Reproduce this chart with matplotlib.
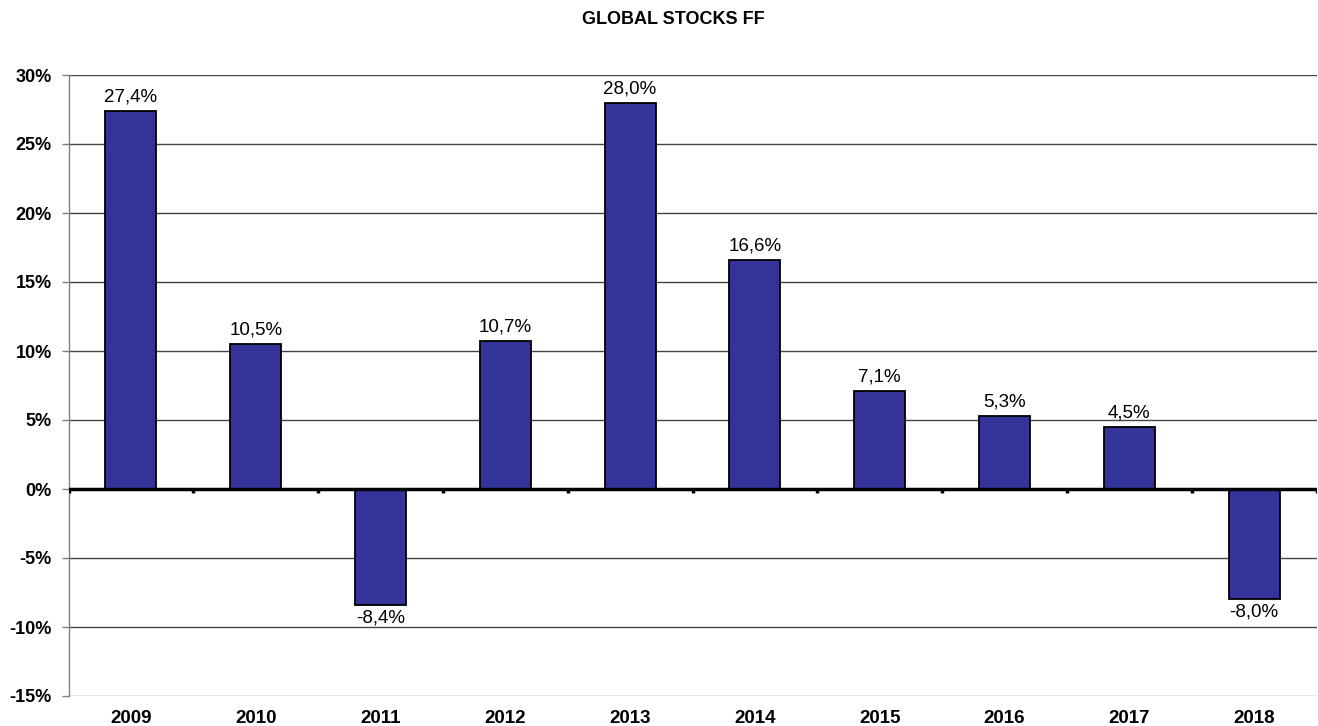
import matplotlib
matplotlib.use("Agg")
import matplotlib.pyplot as plt
import numpy as np

years = ["2009", "2010", "2011", "2012", "2013", "2014", "2015", "2016", "2017", "2018"]
returns = [27.4, 10.5, -8.4, 10.7, 28.0, 16.6, 7.1, 5.3, 4.5, -8.0]
yticks = [30, 25, 20, 15, 10, 5, 0, -5, -10, -15]
title = "GLOBAL STOCKS FF"

plt.rcParams['font.family'] = ['Liberation Sans', 'DejaVu Sans']

fig = plt.figure(figsize=(13.18, 7.26), dpi=100)
ax = fig.add_axes([68.5 / 1318, 30 / 726, 1248 / 1318, 621 / 726])

x = np.arange(len(years))
ax.bar(x, returns, width=0.41, color="#333399", edgecolor="black", linewidth=1.3, zorder=3)

ax.set_xlim(-0.5, len(years) - 0.5)
ax.set_ylim(-15, 30)
ax.set_yticks(yticks)
ax.set_yticklabels([f"{t}%" for t in yticks], fontsize=13, fontweight="bold")
ax.tick_params(axis="y", length=5, color="#808080", width=1, pad=7)

for t in yticks:
    if t != 0:
        ax.axhline(t, color="#444444" if t != -15 else "#888888", linewidth=1, zorder=1)

ax.set_xticks(x)
ax.set_xticklabels(years, fontsize=13.5, fontweight="bold")
ax.tick_params(axis="x", length=0, pad=10)

for s in ["top", "right", "bottom"]:
    ax.spines[s].set_visible(False)
ax.spines["left"].set_color("#808080")
ax.spines["left"].set_linewidth(1)

# zero axis line with category boundary ticks
ax.axhline(0, color="black", linewidth=2.5, zorder=4)
bounds = np.arange(len(years) + 1) - 0.5
ax.vlines(bounds, -0.3, 0, color="black", linewidth=2.5, zorder=4)

for xi, v in zip(x, returns):
    lbl = f"{v:.1f}%".replace(".", ",")
    if v >= 0:
        ax.annotate(lbl, (xi, v), xytext=(0, 4), textcoords="offset points",
                    ha="center", va="bottom", fontsize=13.5)
    else:
        ax.annotate(lbl, (xi, v), xytext=(0, -3), textcoords="offset points",
                    ha="center", va="top", fontsize=13.5)

fig.text(673 / 1318, 1 - 19 / 726, title, ha="center", va="center", fontsize=13, fontweight="bold")

fig.savefig("out.png", dpi=100)
